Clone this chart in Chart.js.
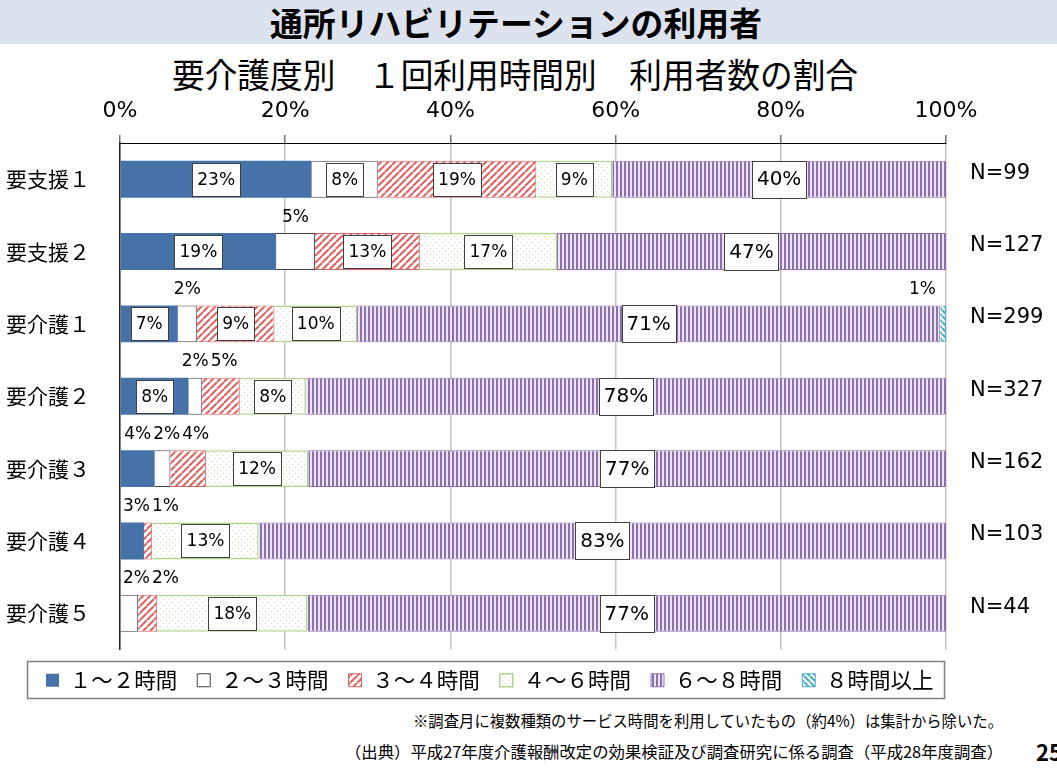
<!DOCTYPE html>
<html lang="ja">
<head>
<meta charset="utf-8">
<script src="https://cdn.jsdelivr.net/npm/chart.js@4"></script>
<style>
  html, body { margin: 0; padding: 0; background: #fff; }
  body { width: 1057px; height: 769px; overflow: hidden; position: relative; font-family: "Noto Sans CJK JP", sans-serif; color: #000; }
  #banner { position: absolute; left: 0; top: 0; width: 1057px; height: 44px; background: #dce3ee; }
  .txt { position: absolute; white-space: nowrap; transform-origin: 0 50%; line-height: 1; }
  #title { font-size: 33px; font-weight: bold; }
  #subtitle { font-size: 34px; }
  .note { font-size: 16px; }
  #page { font-size: 22px; font-weight: 600; }
  #chart { position: absolute; left: 0; top: 88px; }
</style>
</head>
<body>
<div id="banner"></div>
<div id="title" class="txt">通所リハビリテーションの利用者</div>
<div id="subtitle" class="txt">要介護度別　１回利用時間別　利用者数の割合</div>
<canvas id="chart" width="1057" height="620"></canvas>
<div id="note1" class="txt note">※調査月に複数種類のサービス時間を利用していたもの（約4%）は集計から除いた。</div>
<div id="note2" class="txt note">（出典）平成27年度介護報酬改定の効果検証及び調査研究に係る調査（平成28年度調査）</div>
<div id="page" class="txt">25</div>
<script>
// categories (要介護度) and respondents per row
var categories = ['要支援１', '要支援２', '要介護１', '要介護２', '要介護３', '要介護４', '要介護５'];
var nCounts = [99, 127, 299, 327, 162, 103, 44];

// share of users per time slot (%)
var oneToTwo    = [23.2, 18.9,  7.0,  8.3,  4.2,  2.9,  0];
var twoToThree  = [ 8.0,  4.7,  2.3,  1.6,  1.9,  0,    2.2];
var threeToFour = [19.2, 12.7,  9.4,  4.6,  4.3,  1.0,  2.3];
var fourToSix   = [ 9.2, 16.6, 10.0,  8.0, 12.4, 12.9, 18.2];
var sixToEight  = [40.4, 47.1, 70.6, 77.5, 77.2, 83.2, 77.3];
var eightPlus   = [ 0,    0,    0.7,  0,    0,    0,    0];

var seriesNames = ['１～２時間', '２～３時間', '３～４時間', '４～６時間', '６～８時間', '８時間以上'];
var xTicks = [0, 20, 40, 60, 80, 100];

var canvas = document.getElementById('chart');
var mainCtx = canvas.getContext('2d');

function makePattern(w, h, draw) {
    var c = document.createElement('canvas');
    c.width = w; c.height = h;
    var g = c.getContext('2d');
    draw(g, w, h);
    return mainCtx.createPattern(c, 'repeat');
}

var redHatch = makePattern(7, 7, function (g, w, h) {
    g.fillStyle = '#fff'; g.fillRect(0, 0, w, h);
    g.strokeStyle = 'rgb(222,98,94)'; g.lineWidth = 2;
    g.beginPath();
    [-w, 0, w].forEach(function (k) { g.moveTo(k, h); g.lineTo(k + w, 0); });
    g.stroke();
});
var cyanHatch = makePattern(6, 6, function (g, w, h) {
    g.fillStyle = '#fff'; g.fillRect(0, 0, w, h);
    g.strokeStyle = 'rgb(75,172,198)'; g.lineWidth = 2;
    g.beginPath();
    [-w, 0, w].forEach(function (k) { g.moveTo(k, 0); g.lineTo(k + w, h); });
    g.stroke();
});
var purpleStripes = makePattern(4, 4, function (g, w, h) {
    g.fillStyle = 'rgb(236,230,244)'; g.fillRect(0, 0, w, h);
    g.fillStyle = 'rgb(140,112,176)'; g.fillRect(0, 0, 2, h);
});
var greenDots = makePattern(6, 6, function (g, w, h) {
    g.fillStyle = '#fff'; g.fillRect(0, 0, w, h);
    g.fillStyle = 'rgb(196,220,168)';
    g.fillRect(1, 1, 1, 1); g.fillRect(4, 4, 1, 1);
});

var segLabels = {
    id: 'segLabels',
    afterDatasetsDraw: function (chart) {
        var ctx = chart.ctx, area = chart.chartArea;
        ctx.save();
        ctx.textBaseline = 'middle';
        categories.forEach(function (cat, i) {
            var prevRight = area.left;
            chart.data.datasets.forEach(function (ds, j) {
                var v = ds.data[i];
                if (!v) return;
                var bar = chart.getDatasetMeta(j).data[i];
                var pct = Math.round(v) + '%';
                var cx = (bar.x + bar.base) / 2;
                if (Math.round(v) >= 6) {
                    var big = j === 4;
                    ctx.font = (big ? 20 : 17) + 'px "DejaVu Sans"';
                    var w = Math.round(ctx.measureText(pct).width + 10);
                    var h = Math.round(big ? bar.height : bar.height - 4);
                    var bx = Math.round(cx - w / 2) + 0.5, by = Math.round(bar.y - h / 2) + 0.5;
                    ctx.fillStyle = '#fff';
                    ctx.fillRect(bx, by, w, h);
                    ctx.strokeStyle = '#404040'; ctx.lineWidth = 1;
                    ctx.strokeRect(bx, by, w, h);
                    ctx.fillStyle = '#000'; ctx.textAlign = 'center';
                    ctx.fillText(pct, cx, bar.y + 1);
                } else {
                    ctx.font = '17px "DejaVu Sans"';
                    var tw = ctx.measureText(pct).width;
                    var left = Math.max(cx - tw / 2, prevRight + 2, area.left + 3);
                    left = Math.min(left, area.right - 10 - tw);
                    ctx.fillStyle = '#000'; ctx.textAlign = 'left';
                    ctx.fillText(pct, left, bar.y - bar.height / 2 - 16);
                    prevRight = left + tw;
                }
            });
        });
        ctx.restore();
    }
};

var nLabels = {
    id: 'nLabels',
    afterDraw: function (chart) {
        var ctx = chart.ctx, y = chart.scales.y;
        ctx.save();
        ctx.font = '21px "DejaVu Sans"';
        ctx.fillStyle = '#000';
        ctx.textAlign = 'left';
        ctx.textBaseline = 'middle';
        nCounts.forEach(function (n, i) {
            ctx.fillText('N=' + n, chart.chartArea.right + 24, y.getPixelForValue(i) - 6);
        });
        ctx.restore();
    }
};

var legendFrame = {
    id: 'legendFrame',
    afterDraw: function (chart) {
        var boxes = chart.legend.legendHitBoxes;
        if (!boxes || !boxes.length) return;
        var first = boxes[0], last = boxes[boxes.length - 1];
        var cy = first.top + first.height / 2;
        var x0 = Math.round(first.left - 19) + 0.5;
        var x1 = Math.round(last.left + last.width + 10) + 0.5;
        var ctx = chart.ctx;
        ctx.save();
        ctx.strokeStyle = '#808080'; ctx.lineWidth = 1.5;
        ctx.strokeRect(x0, Math.round(cy - 19) + 0.5, x1 - x0, 37);
        ctx.restore();
    }
};

Chart.defaults.font.family = '"DejaVu Sans"';
Chart.defaults.color = '#000';

new Chart(canvas, {
    type: 'bar',
    data: {
        labels: categories,
        datasets: [
            { label: seriesNames[0], data: oneToTwo, backgroundColor: '#4672a8', borderColor: '#4672a8', borderWidth: 0 },
            { label: seriesNames[1], data: twoToThree, backgroundColor: '#fff', borderColor: '#404040', borderWidth: 1 },
            { label: seriesNames[2], data: threeToFour, backgroundColor: redHatch, borderColor: 'rgb(214,100,96)', borderWidth: 1 },
            { label: seriesNames[3], data: fourToSix, backgroundColor: greenDots, borderColor: 'rgb(176,212,136)', borderWidth: 1.5 },
            { label: seriesNames[4], data: sixToEight, backgroundColor: purpleStripes, borderColor: 'rgb(140,112,176)', borderWidth: 1 },
            { label: seriesNames[5], data: eightPlus, backgroundColor: cyanHatch, borderColor: 'rgb(75,172,198)', borderWidth: 1 }
        ]
    },
    options: {
        indexAxis: 'y',
        responsive: false,
        animation: false,
        categoryPercentage: 1,
        barPercentage: 0.51,
        layout: { padding: { left: 0, right: 77.5, top: 0, bottom: 7 } },
        scales: {
            x: {
                position: 'top',
                stacked: true,
                min: 0,
                max: 100,
                afterBuildTicks: function (s) { s.ticks = xTicks.map(function (v) { return { value: v }; }); },
                afterFit: function (s) { s.height = 55; },
                ticks: { callback: function (v) { return v + '%'; }, font: { size: 22 }, padding: 11, maxRotation: 0 },
                grid: { color: '#c4c4c4', lineWidth: 1.5, tickLength: 8, tickColor: '#707070' },
                border: { color: '#000', width: 1 }
            },
            y: {
                stacked: true,
                afterFit: function (s) { s.width = 120; },
                ticks: { font: { family: '"Noto Sans CJK JP"', size: 21 }, padding: 30 },
                grid: { display: false, drawTicks: false },
                border: { color: '#222', width: 1.5 }
            },
            // empty right-hand band that leaves room for the N= column
            nSpace: {
                type: 'category',
                axis: 'y',
                position: 'right',
                afterFit: function (s) { s.width = 33.5; },
                ticks: { display: false },
                grid: { display: false, drawTicks: false },
                border: { display: false }
            }
        },
        plugins: {
            tooltip: { enabled: false },
            legend: {
                position: 'bottom',
                labels: {
                    boxWidth: 13,
                    boxHeight: 13,
                    padding: 20,
                    font: { family: '"Noto Sans CJK JP"', size: 21.5 },
                    color: '#000'
                }
            }
        }
    },
    plugins: [segLabels, nLabels, legendFrame]
});

function place(id, left, right, cy) {
    var el = document.getElementById(id);
    var r = el.getBoundingClientRect();
    el.style.left = left + 'px';
    el.style.top = (cy - r.height / 2) + 'px';
    if (right) el.style.transform = 'scaleX(' + ((right - left) / r.width) + ')';
}
place('title', 270, 762, 22);
place('subtitle', 172, 858, 74);
place('note1', 413, 1003, 720);
place('note2', 345, 1003, 751);
place('page', 1036, null, 751);
</script>
</body>
</html>
